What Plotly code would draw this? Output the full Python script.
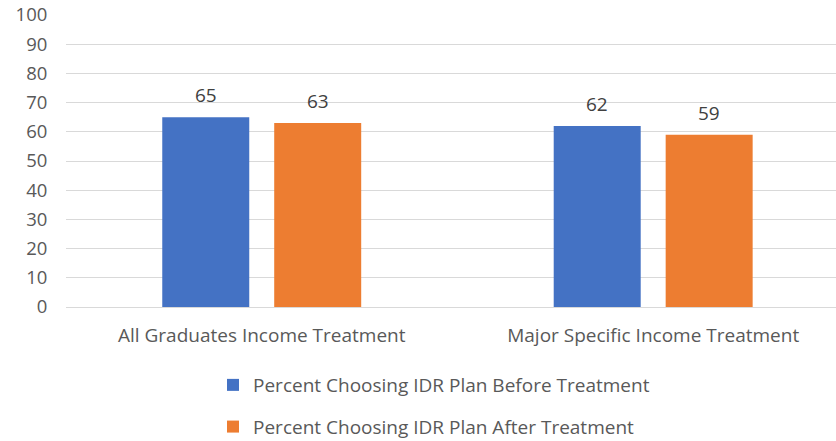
import plotly.graph_objects as go

categories = ["All Graduates Income Treatment", "Major Specific Income Treatment"]
series_names = ["Percent Choosing IDR Plan Before Treatment",
                "Percent Choosing IDR Plan After Treatment"]
before_values = [65, 62]
after_values = [63, 59]
y_ticks = list(range(0, 101, 10))

colors = ["#4472C4", "#ED7D31"]
FONT = "Open Sans"
TXT = "#595959"

fig = go.Figure()
for name, vals, col, grp in zip(series_names, [before_values, after_values], colors, ["a", "b"]):
    fig.add_trace(go.Bar(x=categories, y=vals, name=name, marker=dict(color=col, line=dict(width=0)),
                         legendgroup=grp))

# data labels
for vals, shift in zip([before_values, after_values], [-56, 56]):
    for c, v in zip(categories, vals):
        fig.add_annotation(x=c, y=v, text=str(v), showarrow=False, xref="x", yref="y",
                           xshift=shift, yshift=7, yanchor="bottom",
                           font=dict(family=FONT, size=19, color="#404040"))

fig.update_layout(
    width=836, height=441,
    margin=dict(l=66, r=0, t=15, b=134, autoexpand=False),
    paper_bgcolor="white", plot_bgcolor="white",
    barmode="group", bargap=0.428, bargroupgap=0.223,
    font=dict(family=FONT, size=19, color=TXT),
    showlegend=True,
    legend=dict(orientation="v", xref="container", yref="container",
                x=0.2548, xanchor="left", y=0.170, yanchor="top",
                font=dict(family=FONT, size=19, color=TXT),
                tracegroupgap=14, traceorder="grouped", itemwidth=30),
    xaxis=dict(range=[-0.5, 1.467], showgrid=False, showline=False, zeroline=False,
               ticks="outside", ticklen=11, tickcolor="rgba(0,0,0,0)",
               tickfont=dict(family=FONT, size=19, color=TXT)),
    yaxis=dict(range=[0, 100], tickvals=y_ticks, showgrid=True, gridcolor="#D9D9D9", gridwidth=1.3,
               zeroline=True, zerolinecolor="#D9D9D9", zerolinewidth=1.3, showline=False,
               ticks="outside", ticklen=14, tickcolor="rgba(0,0,0,0)",
               tickfont=dict(family=FONT, size=18.5, color=TXT)),
)

fig.write_html("out.html")
